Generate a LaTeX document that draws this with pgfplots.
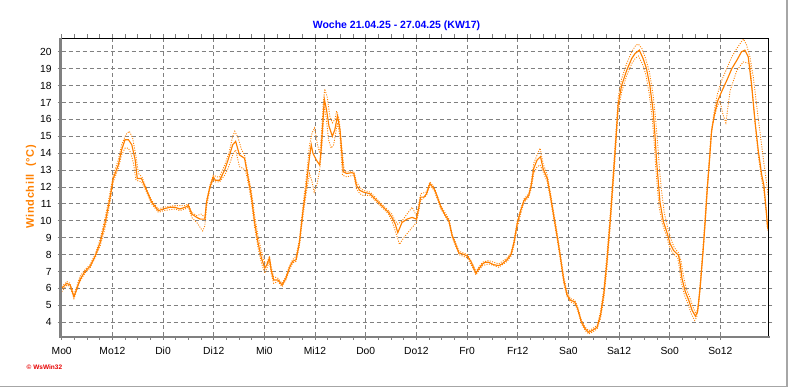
\documentclass[border=0pt]{standalone}
\usepackage{fontspec}
\setmainfont{Liberation Sans}
\usepackage{pgfplots}
\pgfplotsset{compat=1.18}
\definecolor{wsorange}{RGB}{255,128,0}
\definecolor{wsgrid}{RGB}{128,128,128}
\definecolor{wsblue}{RGB}{0,0,255}
\definecolor{wsred}{RGB}{230,0,0}
\begin{document}
\begin{tikzpicture}[x=1pt,y=1pt]
\path[use as bounding box] (0,0) rectangle (792,387);
\begin{axis}[
  name=ax,
  at={(61.7pt,51.3pt)}, anchor=south west,
  scale only axis, width=706.6pt, height=297.4pt,
  xmin=0, xmax=167.35, ymin=3.2, ymax=20.8,
  xtick={0,12,...,156},
  xticklabels={Mo0,Mo12,Di0,Di12,Mi0,Mi12,Do0,Do12,Fr0,Fr12,Sa0,Sa12,So0,So12},
  minor x tick num=3,
  ytick={4,5,...,20},
  axis line style={draw=none},
  tick align=outside,
  major tick length=4pt, minor tick length=4pt,
  every tick/.style={wsgrid, line width=0.8pt},
  grid=major,
  major grid style={wsgrid, line width=0.85pt, dash pattern=on 4pt off 3pt},
  /pgf/number format/assume math mode=true,
  ticklabel style={font=\fontsize{10.3}{12}\selectfont},
  yticklabel style={xshift=-2.5pt},
  xticklabel style={yshift=-4pt},
]
% max (dotted)
\addplot[wsorange, line width=0.9pt, dash pattern=on 1pt off 1.4pt] table {
0 6.1
1.2 6.4
2.0 6.3
2.9 5.6
4.3 6.7
5.5 7.1
6.7 7.4
7.9 8.0
9.1 8.9
10.3 10.2
11.4 11.6
12.2 12.7
13.4 13.6
14.2 14.5
15.2 15.1
16.0 15.3
16.8 14.9
17.6 13.8
18.2 12.8
19.0 12.6
20.1 11.9
21.3 11.2
22.9 10.7
24.1 10.8
26.8 10.9
29.2 10.9
30.0 11.0
30.8 10.5
32.0 10.3
33.0 10.4
33.9 10.2
34.3 11.2
35.1 12.1
35.9 12.7
36.8 12.6
37.4 12.6
38.6 13.3
39.6 14.0
40.5 15.0
41.0 15.3
41.8 14.9
42.6 14.2
43.3 13.9
44.1 12.8
44.9 11.8
45.7 10.3
46.5 9.1
47.3 8.2
48.1 7.5
48.6 7.5
49.2 7.9
49.6 7.3
50.2 6.7
51.2 6.6
52.2 6.3
53.1 6.7
53.9 7.3
54.7 7.7
55.5 7.9
56.3 8.9
57.1 10.8
57.9 12.5
58.7 14.5
59.3 15.2
59.9 15.5
60.5 14.6
61.1 14.0
61.5 15.0
61.9 16.8
62.3 17.8
62.9 17.3
63.5 16.2
64.1 15.8
64.7 16.0
65.1 16.5
65.7 16.0
66.3 14.5
66.9 13.0
67.5 12.9
69.2 12.9
69.8 12.3
70.6 12.0
71.4 11.8
73.0 11.7
75.0 11.2
77.4 10.6
78.2 10.4
79.0 10.0
79.6 9.8
80.6 10.0
81.8 10.4
83.0 10.8
84.0 10.3
84.6 11.0
85.0 11.6
86.4 11.7
87.2 12.3
88.2 12.0
89.8 10.9
91.7 10.1
92.5 9.2
93.3 8.7
94.1 8.2
96.1 8.0
97.6 7.3
98.1 7.0
98.9 7.3
99.7 7.55
101.1 7.65
103.5 7.45
105.5 7.8
106.4 8.1
107.1 8.8
107.9 10.0
108.7 10.7
109.5 11.3
110.6 11.6
111.2 12.3
111.8 13.4
112.6 13.9
113.3 14.3
114.0 13.4
115.0 12.7
115.8 11.6
116.6 10.4
117.4 9.2
118.2 7.9
118.9 6.7
119.7 5.8
120.5 5.4
121.5 5.3
122.2 4.9
123.1 4.1
124.0 3.7
124.8 3.5
125.6 3.6
126.8 3.8
127.6 4.6
128.4 6.0
129.1 7.9
129.9 10.4
130.7 13.2
131.3 15.4
131.8 17.3
132.6 18.4
133.8 19.3
135.0 20.0
136.0 20.4
136.6 20.45
137.4 20.2
138.3 19.6
139.2 18.8
140.1 17.4
140.7 15.9
141.2 14.4
141.6 13.0
142.0 11.9
142.7 10.5
143.5 9.6
144.3 8.9
145.1 8.4
146.1 8.1
146.7 7.6
147.2 6.8
147.9 6.0
148.7 5.5
149.5 4.9
150.2 4.5
150.8 4.9
151.3 6.3
152.0 8.5
152.5 10.3
153.0 12.2
153.5 13.8
154.0 15.5
154.6 16.6
155.3 17.5
156.3 18.3
157.5 19.0
158.7 19.7
159.9 20.2
161.0 20.6
161.5 20.75
162.2 20.4
163.0 19.7
163.8 18.5
164.6 16.8
165.4 15.2
166.2 13.6
166.8 12.5
167.3 11.5
};
% min (dotted)
\addplot[wsorange, line width=0.9pt, dash pattern=on 1pt off 1.4pt] table {
0 5.8
1.2 6.2
2.0 6.1
2.9 5.4
4.3 6.4
5.5 6.9
6.7 7.2
7.9 7.8
9.1 8.5
10.3 9.6
11.4 11.0
12.2 12.3
13.4 13.1
14.2 13.9
15.0 14.3
15.8 14.3
16.4 14.0
17.0 13.4
17.6 12.4
18.9 12.3
20.1 11.7
21.3 11.0
22.9 10.5
24.1 10.6
26.8 10.7
28.0 10.6
29.2 10.7
30.0 10.8
30.8 10.2
32.0 9.9
32.8 9.6
33.4 9.4
33.9 9.7
34.3 10.8
35.1 11.9
35.9 12.4
36.4 12.3
37.4 12.3
38.6 12.7
39.4 13.1
40.5 13.9
41.2 14.2
42.1 13.2
43.0 13.1
43.6 12.9
44.1 12.3
44.9 11.2
45.7 9.6
46.5 8.4
47.3 7.5
48.1 6.9
48.6 7.2
49.2 7.6
49.6 6.9
50.2 6.3
51.2 6.4
52.2 6.1
53.1 6.5
53.9 7.1
54.7 7.5
55.5 7.6
56.3 8.5
57.1 10.2
57.9 11.6
58.7 12.8
59.3 12.3
59.8 11.7
60.5 12.2
61.1 13.0
61.5 14.0
61.9 15.5
62.2 16.8
62.7 16.0
63.2 14.8
63.8 14.3
64.4 14.5
64.9 15.2
65.3 15.8
65.9 15.0
66.5 12.7
67.5 12.6
69.2 12.7
69.8 11.9
70.6 11.6
71.4 11.5
73.0 11.5
75.0 11.0
77.4 10.4
78.2 10.0
79.0 9.4
80.0 8.6
81.0 9.0
82.0 9.3
83.0 9.6
84.0 9.9
84.6 10.6
85.0 11.2
86.4 11.5
87.2 12.1
88.2 11.8
89.8 10.7
91.7 9.9
92.5 9.0
93.3 8.5
94.1 8.0
96.1 7.8
97.6 7.1
98.1 6.8
98.9 7.1
99.7 7.35
101.1 7.45
103.5 7.25
105.5 7.6
106.4 7.9
107.1 8.5
107.9 9.6
108.7 10.4
109.5 11.1
110.6 11.4
111.2 11.9
111.8 12.8
112.6 13.2
113.3 13.3
114.0 12.9
115.0 12.3
115.8 11.2
116.6 10.0
117.4 8.8
118.2 7.5
118.9 6.3
119.7 5.5
120.5 5.2
121.5 5.1
122.2 4.7
123.1 3.9
124.0 3.5
124.8 3.3
125.6 3.4
126.8 3.6
127.6 4.2
128.4 5.4
129.1 7.1
129.9 9.6
130.7 12.4
131.3 14.6
131.8 16.5
132.6 17.6
133.8 18.6
135.0 19.3
135.8 19.6
136.6 19.75
137.5 19.3
138.3 18.7
139.1 17.6
139.9 16.0
140.3 14.7
140.7 13.1
141.1 11.9
141.5 10.8
142.3 9.8
143.1 9.2
143.9 8.5
144.7 8.1
145.9 7.8
146.3 7.2
146.7 6.4
147.5 5.6
148.3 5.1
149.1 4.5
149.9 4.1
150.4 4.3
151.0 5.7
151.7 7.8
152.2 9.6
152.7 11.5
153.2 13.1
153.7 14.9
154.4 16.0
155.3 16.8
155.9 17.1
156.6 16.3
157.3 15.8
158.3 17.7
159.9 18.9
161.4 19.4
163.0 19.3
163.6 17.6
164.3 15.5
165.0 13.8
165.8 12.4
166.3 11.8
166.9 10.3
167.2 9.4
};
% main (solid)
\addplot[wsorange, line width=1.15pt] table {
0 6.0
1.2 6.3
2.0 6.2
2.9 5.5
4.3 6.5
5.5 7.0
6.7 7.3
7.9 7.9
9.1 8.7
10.3 9.9
11.4 11.3
12.2 12.5
13.4 13.3
14.2 14.2
15.0 14.8
15.8 14.8
16.6 14.5
17.4 13.6
17.9 12.5
18.9 12.5
20.1 11.8
21.3 11.1
22.9 10.6
24.1 10.7
25.6 10.8
26.8 10.8
28.0 10.7
29.2 10.8
30.0 10.9
30.8 10.4
32.0 10.2
32.8 10.1
33.9 10.1
34.3 11.1
35.1 12.0
35.9 12.6
36.4 12.4
37.4 12.4
38.6 13.0
39.4 13.6
40.5 14.5
41.2 14.7
42.1 13.9
43.3 13.7
44.1 12.6
44.9 11.5
45.7 9.9
46.5 8.7
47.3 7.8
48.1 7.2
48.6 7.4
49.2 7.8
49.6 7.1
50.2 6.5
51.2 6.5
52.2 6.2
53.1 6.6
53.9 7.2
54.7 7.6
55.5 7.7
56.3 8.7
57.1 10.5
57.9 12.0
58.7 13.8
59.1 14.5
59.5 14.0
60.3 13.6
61.1 13.3
61.5 14.4
61.9 16.0
62.2 17.2
62.7 16.6
63.3 15.6
64.1 15.0
64.7 15.4
65.3 16.2
65.9 15.4
66.7 12.9
67.5 12.8
68.7 12.85
69.2 12.8
69.8 12.1
70.6 11.8
71.4 11.7
73.0 11.6
73.8 11.4
75.0 11.1
76.2 10.8
77.4 10.5
78.2 10.2
79.0 9.8
79.6 9.3
80.6 9.9
81.8 10.1
83.0 10.2
84.0 10.1
84.6 10.8
85.0 11.4
85.8 11.4
86.4 11.6
87.2 12.2
88.2 11.9
89.0 11.4
89.8 10.8
90.9 10.3
91.7 10.0
92.5 9.1
93.3 8.6
94.1 8.1
95.3 8.0
96.1 7.9
96.9 7.6
97.6 7.2
98.1 6.9
98.9 7.2
99.7 7.45
100.3 7.55
101.1 7.55
102.3 7.4
103.5 7.35
104.3 7.45
105.5 7.7
106.4 8.0
107.1 8.7
107.9 9.85
108.7 10.6
109.5 11.2
110.6 11.5
111.2 12.1
111.8 13.1
112.6 13.6
113.4 13.8
114.0 13.1
115.0 12.5
115.8 11.4
116.6 10.2
117.4 9.0
118.2 7.7
118.9 6.5
119.7 5.6
120.5 5.3
121.5 5.2
122.2 4.8
123.1 4.0
124.0 3.6
124.8 3.4
125.6 3.5
126.8 3.7
127.6 4.4
128.4 5.7
129.1 7.5
129.9 10.0
130.7 12.8
131.3 15.0
131.8 16.9
132.6 18.0
133.8 18.9
135.0 19.6
135.8 19.9
136.8 20.1
137.7 19.6
138.5 19.0
139.3 18.0
140.1 16.45
140.5 15.1
140.9 13.5
141.3 12.3
141.7 11.1
142.5 9.95
143.3 9.35
144.1 8.65
144.9 8.25
146.1 7.95
146.5 7.4
146.9 6.6
147.7 5.8
148.5 5.3
149.3 4.7
150.1 4.35
150.6 4.6
151.2 6.0
151.9 8.2
152.4 9.95
152.9 11.9
153.4 13.5
153.9 15.3
154.6 16.3
155.3 17.05
156.3 17.65
157.5 18.3
158.7 19.0
159.9 19.5
161.0 20.0
161.8 20.1
162.6 19.7
163.4 18.0
164.2 15.9
165.0 14.1
165.8 12.7
166.3 12.1
166.9 10.5
167.2 9.55
};
\end{axis}
% axis frame
\draw[black, line width=1pt] (ax.north west) -- (ax.north east);
\draw[black, line width=1.6pt] (ax.north east) -- (ax.south east);
\draw[wsgrid, line width=2.6pt] ([xshift=-1.3pt]ax.north west) -- ([xshift=-1.3pt,yshift=-2.6pt]ax.south west);
\draw[wsgrid, line width=2.6pt] ([xshift=-2.6pt,yshift=-1.3pt]ax.south west) -- ([xshift=1.5pt,yshift=-1.3pt]ax.south east);
% texts
\node[anchor=base, text=wsblue, font=\bfseries\fontsize{10.5}{12}\selectfont] at (396.5,358.7) {Woche 21.04.25 - 27.04.25 (KW17)};
\node[rotate=90, text=wsorange, font=\bfseries\fontsize{11}{13}\selectfont\addfontfeature{LetterSpace=6}] at (31,200.3) {Windchill\ \ (°C)};
\node[anchor=west, text=wsred, font=\bfseries\fontsize{6.5}{8}\selectfont, inner sep=0pt] at (26.5,19.5) {© WsWin32};
% window frame
\draw[gray!70, line width=1.2pt] (0,0.8) -- (787,0.8) -- (787,387);
\end{tikzpicture}
\end{document}
